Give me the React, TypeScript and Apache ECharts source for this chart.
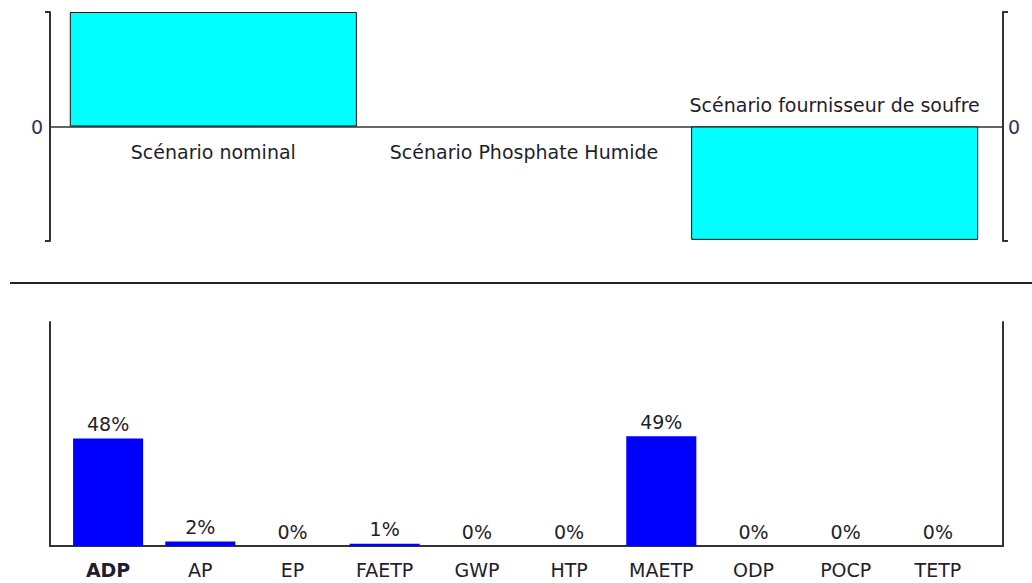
import React, { useEffect, useRef } from "react";
import * as echarts from "echarts";

const scenarioNames = ["Scénario nominal", "Scénario Phosphate Humide", "Scénario fournisseur de soufre"];
const scenarioValues = [1, 0, -0.99];

const impactCategories = ["ADP", "AP", "EP", "FAETP", "GWP", "HTP", "MAETP", "ODP", "POCP", "TETP"];
const impactShares = [48, 2, 0, 1, 0, 0, 49, 0, 0, 0];
const highlighted = "ADP";

const FONT = "DejaVu Sans";
const TXT = "#1e1e2e";
const LINE = "#333333";

export default function App() {
  const ref = useRef<HTMLDivElement>(null);
  useEffect(() => {
    if (!ref.current) return;
    const chart = echarts.init(ref.current, null, { renderer: "svg" });
    const option: any = {
      animation: false,
      textStyle: { fontFamily: FONT },
      grid: [
        { left: 50, right: 29, top: 12, height: 229 },
        { left: 58, right: 42, top: 12, height: 229 },
        { left: 50, right: 29, top: 322, height: 224 },
        { left: 62, right: 48, top: 322, height: 224 },
      ],
      xAxis: [
        {
          gridIndex: 0, type: "value", min: 0, max: 1,
          axisLine: { show: true, onZero: true, lineStyle: { color: LINE, width: 1.5 } },
          axisTick: { show: false }, axisLabel: { show: false }, splitLine: { show: false },
        },
        {
          gridIndex: 1, type: "category", data: scenarioNames,
          axisLine: { show: false }, axisTick: { show: false }, axisLabel: { show: false },
        },
        {
          gridIndex: 2, type: "value", min: 0, max: 1,
          axisLine: { show: true, onZero: false, lineStyle: { color: LINE, width: 2 } },
          axisTick: { show: false }, axisLabel: { show: false }, splitLine: { show: false },
        },
        {
          gridIndex: 3, type: "category",
          data: impactCategories.map((c) => ({
            value: c,
            textStyle: { fontWeight: c === highlighted ? "bold" : "normal" },
          })),
          axisLine: { show: false }, axisTick: { show: false },
          axisLabel: { margin: 14, fontSize: 19, color: TXT, fontFamily: FONT, interval: 0 },
        },
      ],
      yAxis: [
        {
          gridIndex: 0, type: "value", min: -1, max: 1, position: "left",
          axisLine: { show: true, onZero: false, lineStyle: { color: LINE, width: 2 } },
          axisTick: { show: true, customValues: [-1, 1], length: 5, lineStyle: { color: LINE, width: 2 } },
          axisLabel: { show: true, customValues: [0], formatter: () => "0", margin: 7, fontSize: 19, color: "#33305a", fontFamily: FONT },
          splitLine: { show: false },
        },
        {
          gridIndex: 0, type: "value", min: -1, max: 1, position: "right",
          axisLine: { show: true, onZero: false, lineStyle: { color: LINE, width: 2 } },
          axisTick: { show: true, customValues: [-1, 1], length: 5, lineStyle: { color: LINE, width: 2 } },
          axisLabel: { show: true, customValues: [0], formatter: () => "0", margin: 5, fontSize: 19, color: "#33305a", fontFamily: FONT },
          splitLine: { show: false },
        },
        { gridIndex: 1, type: "value", min: -1, max: 1, show: false },
        {
          gridIndex: 2, type: "value", min: 0, max: 100, position: "left",
          axisLine: { show: true, onZero: false, lineStyle: { color: LINE, width: 2 } },
          axisTick: { show: false }, axisLabel: { show: false }, splitLine: { show: false },
        },
        {
          gridIndex: 2, type: "value", min: 0, max: 100, position: "right",
          axisLine: { show: true, onZero: false, lineStyle: { color: LINE, width: 2 } },
          axisTick: { show: false }, axisLabel: { show: false }, splitLine: { show: false },
        },
        { gridIndex: 3, type: "value", min: 0, max: 100, show: false },
      ],
      series: [
        {
          type: "bar", xAxisIndex: 1, yAxisIndex: 2,
          barCategoryGap: "7.6%",
          itemStyle: { color: "#00ffff", borderColor: "#111111", borderWidth: 1 },
          data: scenarioValues.map((v) => ({
            value: v,
            itemStyle: { borderWidth: v === 0 ? 0 : 1 },
            label: {
              show: true,
              position: v < 0 ? "top" : "bottom",
              distance: v < 0 ? 12 : 16,
            },
          })),
          label: {
            show: true, fontSize: 19, color: TXT, fontFamily: FONT,
            formatter: (p: any) => scenarioNames[p.dataIndex],
          },
        },
        {
          type: "bar", xAxisIndex: 3, yAxisIndex: 5,
          barCategoryGap: "24%",
          itemStyle: { color: "#0000ff" },
          data: impactShares,
          label: {
            show: true, position: "top", distance: 5, fontSize: 19, color: TXT, fontFamily: FONT,
            formatter: (p: any) => `${Math.round(p.value)}%`,
          },
        },
      ],
      graphic: [
        {
          type: "line",
          shape: { x1: 10, y1: 283, x2: 1032, y2: 283 },
          style: { stroke: "#222222", lineWidth: 2 },
        },
      ],
    };
    chart.setOption(option);
    return () => chart.dispose();
  }, []);
  return (
    <div
      ref={ref}
      style={{ position: "absolute", left: 0, top: 0, width: 1032, height: 583, background: "#ffffff" }}
    />
  );
}
